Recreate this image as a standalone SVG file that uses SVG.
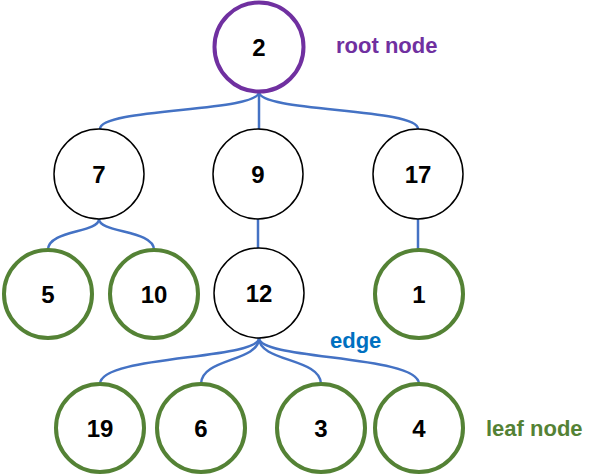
<svg xmlns="http://www.w3.org/2000/svg" width="599" height="476" viewBox="0 0 599 476">
<style>
.bg{fill:#ffffff}
.n{fill:#ffffff;stroke:#000000;stroke-width:1.5}
.root{fill:#ffffff;stroke:#7030A0;stroke-width:4}
.leaf{fill:#ffffff;stroke:#548235;stroke-width:4}
.t{font-family:"Liberation Sans",Arial,sans-serif;font-weight:bold;font-size:24px;fill:#000000;text-anchor:middle}
.lbl{font-family:"Liberation Sans",Arial,sans-serif;font-weight:bold;font-size:22px}
.e{fill:none;stroke:#4472C4;stroke-width:2.5}
</style>
<rect class="bg" x="0" y="0" width="599" height="476"/>
<g id="connectors">
<path class="e" d="M259,92 C259,112 100,108 100,129"/>
<path class="e" d="M259,92 L259,129"/>
<path class="e" d="M259,92 C259,112 418,108 418,129"/>
<path class="e" d="M99,219 C99,233 48,230 48,250"/>
<path class="e" d="M99,219 C99,233 154,230 154,250"/>
<path class="e" d="M258,219 L258,248"/>
<path class="e" d="M418,219 L418,250"/>
<path class="e" d="M259,338 C259,360 100,355 100,384"/>
<path class="e" d="M259,338 C259,362 201,358 201,384"/>
<path class="e" d="M259,338 C259,362 321,358 321,384"/>
<path class="e" d="M259,338 C259,360 419,355 419,384"/>
</g>
<g id="node-2"><circle class="root" cx="259" cy="47" r="44.5"/><text class="t" x="259" y="56">2</text></g>
<g id="node-7"><circle class="n" cx="99" cy="174" r="45"/><text class="t" x="99" y="183">7</text></g>
<g id="node-9"><circle class="n" cx="258" cy="174" r="45"/><text class="t" x="258" y="183">9</text></g>
<g id="node-17"><circle class="n" cx="418" cy="174" r="45"/><text class="t" x="418" y="183">17</text></g>
<g id="node-5"><circle class="leaf" cx="48" cy="294" r="44"/><text class="t" x="48" y="303">5</text></g>
<g id="node-10"><circle class="leaf" cx="154" cy="294" r="44"/><text class="t" x="154" y="303">10</text></g>
<g id="node-12"><circle class="n" cx="259" cy="293" r="45"/><text class="t" x="259" y="302">12</text></g>
<g id="node-1"><circle class="leaf" cx="419" cy="294" r="44"/><text class="t" x="419" y="303">1</text></g>
<g id="node-19"><circle class="leaf" cx="100" cy="428" r="44"/><text class="t" x="100" y="437">19</text></g>
<g id="node-6"><circle class="leaf" cx="201" cy="428" r="44"/><text class="t" x="201" y="437">6</text></g>
<g id="node-3"><circle class="leaf" cx="321" cy="428" r="44"/><text class="t" x="321" y="437">3</text></g>
<g id="node-4"><circle class="leaf" cx="419" cy="428" r="44"/><text class="t" x="419" y="437">4</text></g>
<g id="labels">
<text class="lbl" x="336" y="53" fill="#7030A0">root node</text>
<text class="lbl" x="330" y="348" fill="#0070C0">edge</text>
<text class="lbl" x="486" y="436" fill="#548235">leaf node</text>
</g>
</svg>
